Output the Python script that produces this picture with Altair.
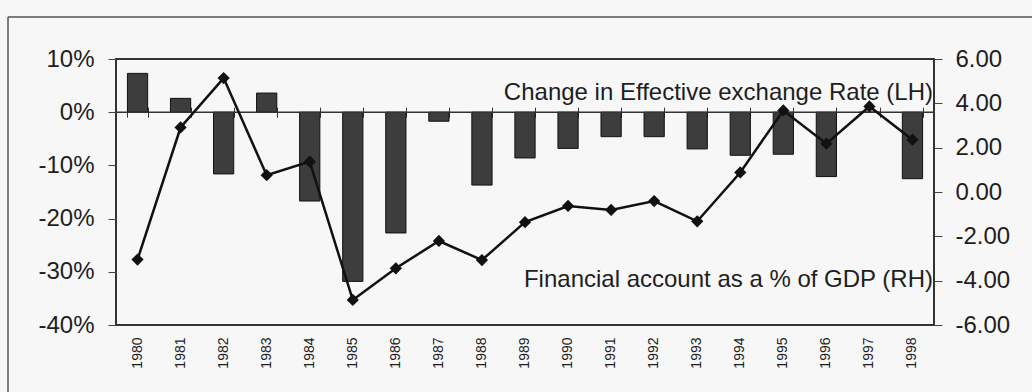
import altair as alt
import pandas as pd

# ---- data ----
years = [str(y) for y in range(1980, 1999)]
eer_change = [7.3, 2.6, -11.6, 3.6, -16.7, -31.8, -22.7, -1.7, -13.7, -8.6,
              -6.8, -4.6, -4.6, -6.9, -8.1, -7.9, -12.1, 0.0, -12.5]
fin_account = [-3.05, 2.91, 5.14, 0.76, 1.37, -4.87, -3.44, -2.21, -3.07, -1.36,
               -0.63, -0.81, -0.41, -1.32, 0.88, 3.68, 2.18, 3.86, 2.36]
left_ticks = [-40, -30, -20, -10, 0, 10]
right_ticks = [-6, -4, -2, 0, 2, 4, 6]
labels = ["Change in Effective exchange Rate (LH)",
          "Financial account as a % of GDP (RH)"]
label_pos = [2.3, -32.9]   # on the left-hand scale

W, H = 818, 266
FONT = "Liberation Sans"
INK = "#1e1e1e"

df = pd.DataFrame({"year": years, "eer": eer_change, "fa": fin_account})
lab_df = pd.DataFrame({"label": labels, "pos": label_pos})
one = pd.DataFrame({"a": [0]})

xscale = alt.Scale(paddingInner=0.53, paddingOuter=0.265)
lscale = alt.Scale(domain=[-40, 10], nice=False, zero=False)
rscale = alt.Scale(domain=[-6, 6], nice=False, zero=False)

left_axis = alt.Axis(title=None, values=left_ticks, orient="left",
                     labelExpr="datum.value + '%'", tickSize=8,
                     labelPadding=14, labelFontSize=24, labelFont=FONT,
                     labelColor=INK, domain=False, grid=False,
                     tickColor="#444444")

bars = alt.Chart(df).mark_bar(color="#3d3d3d", stroke="#111111", strokeWidth=1).encode(
    x=alt.X("year:N", sort=years, scale=xscale,
            axis=alt.Axis(title=None, labelAngle=-90, ticks=False, domain=False,
                          labelPadding=12, labelFontSize=14, labelFont=FONT,
                          labelColor=INK)),
    y=alt.Y("eer:Q", scale=lscale, axis=left_axis),
)

zero = alt.Chart(one).mark_rule(color="#333333", strokeWidth=1.5).encode(
    y=alt.Y("a:Q", scale=lscale, axis=left_axis)
)

texts = alt.Chart(lab_df).mark_text(
    align="right", baseline="alphabetic", fontSize=24, font=FONT, color=INK
).encode(
    x=alt.value(W - 1),
    y=alt.Y("pos:Q", scale=lscale, axis=left_axis),
    text="label:N",
)

frame_left = alt.Chart(one).mark_rule(color="#555555", strokeWidth=1.5).encode(
    x=alt.value(-108), y=alt.value(-42), y2=alt.value(H + 80)
)
frame_top = alt.Chart(one).mark_rule(color="#555555", strokeWidth=1.5).encode(
    x=alt.value(-108), x2=alt.value(W + 120), y=alt.value(-42)
)

left_layer = alt.layer(bars, zero, texts, frame_left, frame_top)

xline = alt.X("year:N", sort=years, scale=xscale,
              axis=alt.Axis(orient="top", title=None, labels=False, domain=False,
                            ticks=True, tickBand="extent", tickSize=10,
                            offset=-(0.2 * H + 5), tickColor="#333333"))
yline = alt.Y("fa:Q", scale=rscale,
              axis=alt.Axis(orient="right", title=None, values=right_ticks,
                            labelExpr="(datum.value < 0 ? '-' : '') + format(abs(datum.value), '.2f')",
                            tickSize=8, labelPadding=13,
                            labelFontSize=24, labelFont=FONT, labelColor=INK,
                            domain=False, grid=False, tickColor="#444444"))

line = alt.Chart(df).mark_line(color="#111111", strokeWidth=2.5).encode(x=xline, y=yline)
points = alt.Chart(df).mark_point(shape="diamond", filled=True, size=150,
                                  color="#111111", opacity=1).encode(x=xline, y=yline)

right_layer = alt.layer(line, points)

chart = alt.layer(left_layer, right_layer).resolve_scale(
    y="independent"
).resolve_axis(
    x="independent", y="independent"
).properties(
    width=W, height=H,
    background="#f7f7f7",
    padding={"left": 116, "top": 59, "right": 98, "bottom": 67},
    autosize=alt.AutoSizeParams(type="none"),
).configure_view(
    stroke="#333333", strokeWidth=2
)

chart.save("out.html", embed_options={"renderer": "svg", "actions": False})
